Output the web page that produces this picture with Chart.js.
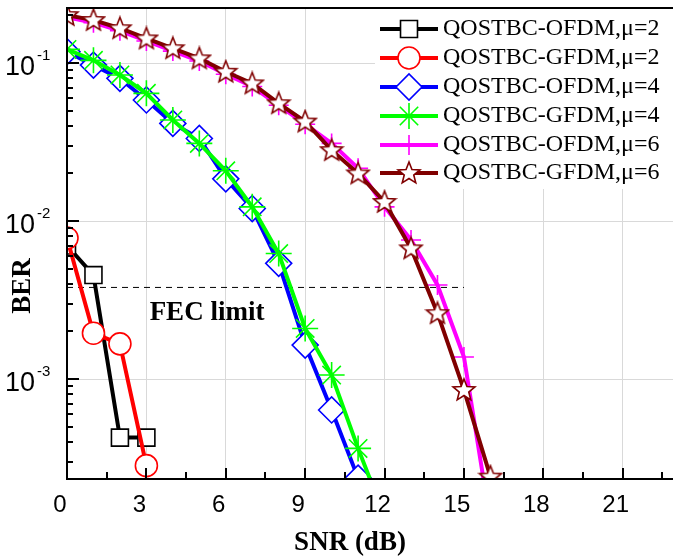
<!DOCTYPE html>
<html>
<head>
<meta charset="utf-8">
<script src="https://cdn.jsdelivr.net/npm/chart.js@4.4.1/dist/chart.umd.min.js"></script>
<style>
  html, body { margin: 0; padding: 0; background: #fff; }
</style>
</head>
<body>
<canvas id="ber" width="673" height="557"></canvas>
<script>
// values
const snrMu2 = [0, 1, 2, 3];
const berOfdmMu2 = [7.0e-3, 4.55e-3, 4.26e-4, 4.26e-4];
const berGfdmMu2 = [7.8e-3, 1.95e-3, 1.67e-3, 2.83e-4];

const snrOfdmMu4 = [0, 1, 2, 3, 4, 5, 6, 7, 8, 9, 10, 11];
const berOfdmMu4 = [0.118, 0.097, 0.080, 0.0584, 0.0415, 0.0333, 0.0185, 0.0120, 0.0054, 0.00164, 0.000637, 0.000236];
const snrGfdmMu4 = [0, 1, 2, 3, 4, 5, 6, 7, 8, 9, 10, 11, 12];
const berGfdmMu4 = [0.122, 0.104, 0.084, 0.0643, 0.0436, 0.0310, 0.0208, 0.0123, 0.00623, 0.00209, 0.00106, 0.000364, 0.000135];

const snrMu6 = [0, 1, 2, 3, 4, 5, 6, 7, 8, 9, 10, 11, 12, 13, 14, 15, 16];
const berOfdmMu6 = [0.195, 0.180, 0.160, 0.138, 0.119, 0.103, 0.085, 0.071, 0.054, 0.041, 0.031, 0.0216, 0.0123, 0.00759, 0.00394, 0.00138, 0.000124];
const berGfdmMu6 = [0.201, 0.187, 0.166, 0.143, 0.124, 0.107, 0.088, 0.0743, 0.0556, 0.0426, 0.0281, 0.0200, 0.0132, 0.00671, 0.00261, 0.000853, 0.000241];

const fecLimit = 3.8e-3;
const fecSnr = [0, 15];

const xTickValues = [0, 3, 6, 9, 12, 15, 18, 21];
const yLabelExps = [-1, -2, -3];

const SANS = '"Liberation Sans", Arial, sans-serif';
const SERIF = '"Liberation Serif", "Times New Roman", serif';

// five pointed star marker (no built-in one in Chart.js)
function makeStar(color) {
    const c = document.createElement('canvas');
    c.width = 26; c.height = 26;
    const g = c.getContext('2d');
    g.beginPath();
    for (let i = 0; i < 10; i++) {
        const r = i % 2 === 0 ? 11.5 : 5;
        const a = -Math.PI / 2 + i * Math.PI / 5;
        g.lineTo(13 + r * Math.cos(a), 13.5 + r * Math.sin(a));
    }
    g.closePath();
    g.fillStyle = '#fff';
    g.fill();
    g.lineWidth = 1.6;
    g.strokeStyle = color;
    g.stroke();
    return c;
}

function series(label, xs, ys, color, style, radius, order) {
    return {
        label: label,
        data: xs.map((x, i) => ({ x: x, y: ys[i] })),
        borderColor: color,
        backgroundColor: '#fff',
        borderWidth: 4,
        pointStyle: style,
        pointRadius: radius,
        pointHoverRadius: radius,
        pointBorderColor: color,
        pointBackgroundColor: '#fff',
        pointBorderWidth: 1.6,
        tension: 0,
        clip: 0,
        order: order
    };
}

const datasets = [
    series('QOSTBC-OFDM,\u03bc=2', snrMu2, berOfdmMu2, '#000000', 'rect', 12, 3),
    series('QOSTBC-GFDM,\u03bc=2', snrMu2, berGfdmMu2, '#ff0000', 'circle', 11, 2),
    series('QOSTBC-OFDM,\u03bc=4', snrOfdmMu4, berOfdmMu4, '#0000ff', 'rectRot', 13, 5),
    series('QOSTBC-GFDM,\u03bc=4', snrGfdmMu4, berGfdmMu4, '#00ff00', 'star', 13, 1),
    series('QOSTBC-OFDM,\u03bc=6', snrMu6, berOfdmMu6, '#ff00ff', 'cross', 10, 4),
    series('QOSTBC-GFDM,\u03bc=6', snrMu6, berGfdmMu6, '#800000', makeStar('#800000'), 12, 0)
];

const legendItems = datasets.slice();

datasets.push({
    label: 'FEC limit',
    data: fecSnr.map(x => ({ x: x, y: fecLimit })),
    borderColor: '#000',
    borderWidth: 1,
    borderDash: [6, 5],
    pointRadius: 0,
    clip: 0,
    order: 6
});

const isDecade = v => Math.abs(Math.log10(v) - Math.round(Math.log10(v))) < 1e-6;

const decorPlugin = {
    id: 'decor',
    beforeDatasetsDraw(chart) {
        const ctx = chart.ctx;
        const a = chart.chartArea;
        // legend sits on a plain white patch
        ctx.save();
        ctx.fillStyle = '#fff';
        ctx.fillRect(375, a.top + 1, a.right - 375, 188 - a.top);
        ctx.restore();
    },
    afterDatasetsDraw(chart) {
        const ctx = chart.ctx;
        const a = chart.chartArea;
        const xs = chart.scales.x;
        const ys = chart.scales.y;
        ctx.save();

        // axis frame
        ctx.strokeStyle = '#000';
        ctx.lineWidth = 2;
        ctx.beginPath();
        ctx.moveTo(a.right, a.top);
        ctx.lineTo(a.left, a.top);
        ctx.lineTo(a.left, a.bottom);
        ctx.lineTo(a.right, a.bottom);
        ctx.stroke();

        // inward tick marks
        ctx.beginPath();
        for (let v = 0; v <= xs.max; v += 1.5) {
            const px = Math.round(xs.getPixelForValue(v));
            const len = (v % 3 === 0) ? 11 : 7;
            ctx.moveTo(px, a.bottom);
            ctx.lineTo(px, a.bottom - len);
        }
        ys.ticks.forEach(t => {
            const py = Math.round(ys.getPixelForValue(t.value));
            const len = isDecade(t.value) ? 12 : 6;
            ctx.moveTo(a.left, py);
            ctx.lineTo(a.left + len, py);
        });
        ctx.stroke();

        // tick labels
        ctx.fillStyle = '#000';
        ctx.textAlign = 'center';
        ctx.textBaseline = 'alphabetic';
        ctx.font = '24px ' + SANS;
        xTickValues.forEach(v => {
            ctx.fillText(String(v), xs.getPixelForValue(v) - 7, 512);
        });
        ctx.textAlign = 'left';
        yLabelExps.forEach(e => {
            const py = ys.getPixelForValue(Math.pow(10, e));
            ctx.font = '27px ' + SANS;
            ctx.fillText('10', 5, py + 12);
            const w = ctx.measureText('10').width;
            ctx.font = '15px ' + SANS;
            ctx.fillText(String(e), 5 + w + 2, py - 3);
        });

        // axis titles and annotation
        ctx.font = 'bold 27px ' + SERIF;
        ctx.textAlign = 'center';
        ctx.fillText('SNR (dB)', 350, 550);
        ctx.fillText('FEC limit', 207, 320);
        ctx.save();
        ctx.translate(30, 286);
        ctx.rotate(-Math.PI / 2);
        ctx.fillText('BER', 0, 0);
        ctx.restore();

        // legend
        const rows = [29, 58, 87, 116, 145, 173];
        legendItems.forEach((ds, i) => {
            const y = rows[i];
            ctx.strokeStyle = ds.borderColor;
            ctx.lineWidth = 4;
            ctx.setLineDash([]);
            ctx.beginPath();
            ctx.moveTo(380, y);
            ctx.lineTo(438, y);
            ctx.stroke();
            ctx.fillStyle = '#fff';
            ctx.strokeStyle = ds.borderColor;
            ctx.lineWidth = ds.pointBorderWidth;
            Chart.helpers.drawPoint(ctx, {
                pointStyle: ds.pointStyle,
                radius: ds.pointRadius,
                rotation: 0,
                borderWidth: ds.pointBorderWidth
            }, 409, y);
            ctx.fillStyle = '#000';
            ctx.font = '24px ' + SERIF;
            ctx.textAlign = 'left';
            ctx.textBaseline = 'middle';
            ctx.fillText(ds.label, 443, y);
            ctx.textBaseline = 'alphabetic';
        });

        ctx.restore();
    }
};

new Chart(document.getElementById('ber'), {
    type: 'line',
    data: { datasets: datasets },
    plugins: [decorPlugin],
    options: {
        responsive: false,
        animation: false,
        devicePixelRatio: 1,
        events: [],
        layout: { autoPadding: false, padding: { top: 8, right: 0, left: 0, bottom: 0 } },
        plugins: {
            legend: { display: false },
            tooltip: { enabled: false }
        },
        scales: {
            x: {
                type: 'linear',
                min: 0,
                max: 22.9,
                ticks: { stepSize: 3, includeBounds: false, display: false },
                grid: { color: '#d9d9d9', lineWidth: 1, drawTicks: false },
                border: { display: false },
                afterFit: scale => { scale.height = 78; }
            },
            y: {
                type: 'logarithmic',
                min: 2.33e-4,
                max: 0.223,
                ticks: { display: false },
                grid: {
                    color: c => (c.tick && isDecade(c.tick.value)) ? '#d9d9d9' : 'rgba(0,0,0,0)',
                    lineWidth: 1,
                    drawTicks: false
                },
                border: { display: false },
                afterBuildTicks: scale => {
                    const ticks = [];
                    for (let e = -4; e <= -1; e++) {
                        for (let m = 1; m <= 9; m++) {
                            const v = m * Math.pow(10, e);
                            if (v >= scale.min && v <= scale.max) ticks.push({ value: v });
                        }
                    }
                    scale.ticks = ticks;
                },
                afterFit: scale => { scale.width = 67; }
            }
        }
    }
});
</script>
</body>
</html>
